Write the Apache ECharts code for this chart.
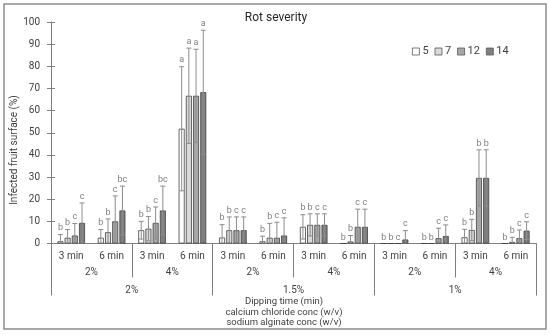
<!DOCTYPE html>
<html>
<head>
<meta charset="utf-8">
<script src="https://cdn.jsdelivr.net/npm/echarts@6/dist/echarts.min.js"></script>
<style>
html,body{margin:0;padding:0;background:#fff;}
#main{width:550px;height:335px;}
</style>
</head>
<body>
<div id="main"></div>
<script>
// ---- data ----
const categories = ['3 min','6 min','3 min','6 min','3 min','6 min','3 min','6 min','3 min','6 min','3 min','6 min'];
const caConc = ['2%','4%','2%','4%','2%','4%'];
const saConc = ['2%','1.5%','1%'];
const seriesNames = ['5','7','12','14'];
const yTicks = [0,10,20,30,40,50,60,70,80,90,100];

const mean5  = [1.0, 2.6, 6.0, 51.8, 2.7, 1.0, 7.5, 0,   0,   0,   2.8, 0];
const sd5    = [3.0, 3.7, 4.0, 28.0, 5.8, 2.3, 5.5, 0,   0,   0,   3.6, 0];
const let5   = ['b','b','b','a','b','b','b','b','b','b','b','b'];

const mean7  = [2.6, 5.1, 6.7, 66.7, 6.0, 2.6, 8.4, 0.9, 0,   0,   6.1, 0.7];
const sd7    = [3.7, 6.0, 5.5, 21.5, 6.0, 6.5, 5.0, 2.7, 0,   0,   4.8, 2.1];
const let7   = ['b','b','b','a','b','b','b','b','b','b','b','b'];

const mean12 = [3.6, 10.0, 9.3, 66.7, 6.0, 2.6, 8.4, 7.5, 0,   2.4, 29.6, 2.4];
const sd12   = [5.4, 11.5, 7.2, 21.0, 6.0, 7.0, 5.0, 8.0, 0,   4.5, 12.7, 3.7];
const let12  = ['c','c','c','a','c','c','c','c','c','c','b','c'];

const mean14 = [9.3, 14.9, 14.9, 68.3, 6.0, 3.6, 8.4, 7.5, 1.8, 3.4, 29.6, 5.8];
const sd14   = [9.0, 11.0, 11.0, 28.0, 6.0, 8.0, 5.0, 8.0, 4.0, 5.0, 12.7, 4.0];
const let14  = ['c','bc','bc','a','c','c','c','c','c','c','b','c'];

const means = [mean5, mean7, mean12, mean14];
const sds = [sd5, sd7, sd12, sd14];
const letters = [let5, let7, let12, let14];

// ---- style ----
const FONT = "Roboto, sans-serif";
const fills = ['#ffffff', '#d9d9d9', '#a6a6a6', '#7f7f7f'];
const BAR_W = 6, STEP = 7.2;
const AXIS_C = '#7f7f7f';
const TXT_C = '#404040';

const chart = echarts.init(document.getElementById('main'), null, {renderer: 'canvas'});

const barSeries = seriesNames.map((n, s) => ({
  name: n,
  type: 'bar',
  xAxisIndex: 0, yAxisIndex: 0,
  data: means[s],
  barWidth: BAR_W,
  barGap: '20%',
  itemStyle: {color: fills[s], borderColor: '#404040', borderWidth: 0.8},
  silent: true,
  z: 2
}));

const errSeries = seriesNames.map((n, s) => ({
  name: 'err' + n,
  type: 'custom',
  xAxisIndex: 0, yAxisIndex: 0,
  data: means[s].map((m, i) => [i, m, sds[s][i]]),
  z: 5,
  silent: true,
  renderItem: function (params, api) {
    const i = api.value(0), m = api.value(1), sd = api.value(2);
    const off = (s - 1.5) * STEP;
    const base = api.coord([i, m]);
    const x = base[0] + off;
    const children = [];
    const errStyle = {stroke: '#8c8c8c', lineWidth: 1};
    let topY = base[1];
    if (sd > 0) {
      const yt = api.coord([i, m + sd])[1];
      const yb = api.coord([i, Math.max(0, m - sd)])[1];
      topY = yt;
      children.push({type: 'line', shape: {x1: x, y1: yt, x2: x, y2: yb}, style: errStyle});
      children.push({type: 'line', shape: {x1: x - 2.5, y1: yt, x2: x + 2.5, y2: yt}, style: errStyle});
      if (m - sd > 0) {
        children.push({type: 'line', shape: {x1: x - 2.5, y1: yb, x2: x + 2.5, y2: yb}, style: errStyle});
      }
    }
    children.push({
      type: 'text',
      style: {
        text: letters[s][params.dataIndex],
        x: x, y: topY - (sd > 0 ? 2 : 1),
        align: 'center', verticalAlign: 'bottom',
        fill: '#7f7f7f', font: '9px ' + FONT
      }
    });
    return {type: 'group', children: children};
  }
}));

const option = {
  animation: false,
  backgroundColor: '#ffffff',
  textStyle: {fontFamily: FONT},
  grid: {left: 51, right: 14, top: 22, bottom: 91.5, containLabel: false},
  legend: {
    data: seriesNames,
    left: 407, top: 41,
    itemWidth: 7, itemHeight: 7, itemGap: 6,
    icon: 'rect',
    itemStyle: {borderColor: '#595959', borderWidth: 0.8},
    textStyle: {fontSize: 11, color: TXT_C, fontFamily: FONT, padding: [0, 0, 0, -2]}
  },
  xAxis: [
    {
      type: 'category', data: categories, position: 'bottom',
      axisLine: {show: true, lineStyle: {color: AXIS_C, width: 1}},
      axisTick: {show: false},
      axisLabel: {margin: 8, fontSize: 10, color: TXT_C, fontFamily: FONT, interval: 0}
    },
    {
      type: 'category', data: caConc, position: 'bottom',
      axisLine: {show: false},
      axisTick: {show: true, length: 34, lineStyle: {color: AXIS_C, width: 1}},
      axisLabel: {margin: 24, fontSize: 10, color: TXT_C, fontFamily: FONT, interval: 0}
    },
    {
      type: 'category', data: saConc, position: 'bottom',
      axisLine: {show: false},
      axisTick: {show: true, length: 52, lineStyle: {color: AXIS_C, width: 1}},
      axisLabel: {margin: 42, fontSize: 10, color: TXT_C, fontFamily: FONT, interval: 0}
    }
  ],
  yAxis: [
    {
      type: 'value', min: yTicks[0], max: yTicks[yTicks.length - 1], interval: 10,
      axisLine: {show: true, lineStyle: {color: AXIS_C, width: 1}},
      axisTick: {show: true, length: 4, lineStyle: {color: AXIS_C}},
      axisLabel: {margin: 11, fontSize: 10, color: TXT_C, fontFamily: FONT},
      splitLine: {show: false}
    },
    {
      type: 'value', min: yTicks[0], max: yTicks[yTicks.length - 1], interval: 10, position: 'left',
      axisLine: {show: false},
      axisTick: {show: true, inside: true, length: 4, lineStyle: {color: AXIS_C}},
      axisLabel: {show: false},
      splitLine: {show: false}
    }
  ],
  graphic: [
    {type: 'rect', shape: {x: 4, y: 4, width: 542, height: 325}, style: {fill: 'none', stroke: '#8c8c8c', lineWidth: 1.5}, z: 100, silent: true},
    {type: 'text', x: 276, y: 18, style: {text: 'Rot severity', align: 'center', verticalAlign: 'middle', fill: '#262626', font: '12px ' + FONT}},
    {type: 'text', x: 14, y: 150, rotation: Math.PI / 2, style: {text: 'Infected fruit surface (%)', align: 'center', verticalAlign: 'middle', fill: TXT_C, font: '10px ' + FONT}},
    {type: 'text', x: 284, y: 302, style: {text: 'Dipping time (min)', align: 'center', verticalAlign: 'middle', fill: TXT_C, font: '9.5px ' + FONT}},
    {type: 'text', x: 284, y: 312.5, style: {text: 'calcium chloride conc (w/v)', align: 'center', verticalAlign: 'middle', fill: TXT_C, font: '9.5px ' + FONT}},
    {type: 'text', x: 284, y: 322.5, style: {text: 'sodium alginate conc (w/v)', align: 'center', verticalAlign: 'middle', fill: TXT_C, font: '9.5px ' + FONT}}
  ],
  series: barSeries.concat(errSeries)
};

chart.setOption(option);
</script>
</body>
</html>
